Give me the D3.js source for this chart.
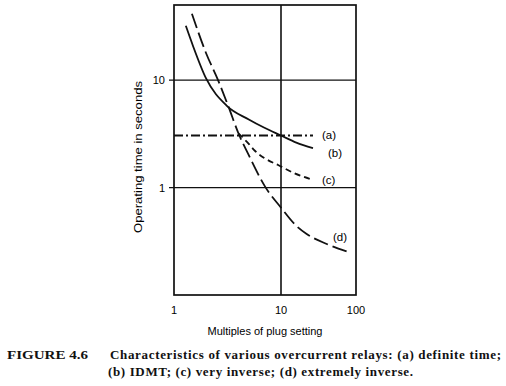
<!DOCTYPE html>
<html>
<head>
<meta charset="utf-8">
<script src="https://cdn.jsdelivr.net/npm/d3@7"></script>
<style>
  body { margin: 0; background: #fff; }
  svg { display: block; }
</style>
</head>
<body>
<script>
// values (multiple of plug setting, seconds)
var curveA = [[1, 3.05], [26.7, 3.05]];
var curveB = [[1.29, 32], [1.5, 21], [2, 10.3], [3.1, 5.8], [5, 4.3], [7, 3.6], [10, 3.05], [16, 2.62], [26.7, 2.33]];
var curveC = [[4, 3.2], [5, 2.55], [5.7, 2.2], [7, 1.88], [9.4, 1.62], [15, 1.36], [26.7, 1.18]];
var curveD = [[1.47, 41.5], [2, 17.7], [2.58, 10], [3.2, 5.8], [4, 3.2], [5, 2.0], [7.1, 1.02], [10, 0.65], [16, 0.44], [22, 0.37], [40, 0.3], [75, 0.255]];
var curveLabels = ["(a)", "(b)", "(c)", "(d)"];
var xTicks = [1, 10, 100];
var yTicks = [1, 10];

var width = 506, height = 386;

var svg = d3.select("body")
    .append("svg")
    .attr("width", width)
    .attr("height", height);

// the printed scan is a bit squashed in the second decade, so piecewise log
var x = d3.scaleLog()
    .domain([1, 10, 100])
    .range([174, 281, 356]);

var y = d3.scaleLog()
    .domain([0.1, 50])
    .range([295, 5]);

var g = svg.append("g");

// grid lines
g.selectAll(".hgrid")
    .data(yTicks)
    .enter()
    .append("line")
    .attr("x1", x(1) - 5)
    .attr("x2", x(100))
    .attr("y1", function (d) { return y(d); })
    .attr("y2", function (d) { return y(d); })
    .attr("stroke", "#111")
    .attr("stroke-width", 1.3);

g.append("line")
    .attr("x1", x(10)).attr("x2", x(10))
    .attr("y1", y(50)).attr("y2", y(0.1))
    .attr("stroke", "#111")
    .attr("stroke-width", 1.6);

// frame
g.append("rect")
    .attr("x", x(1))
    .attr("y", y(50))
    .attr("width", x(100) - x(1))
    .attr("height", y(0.1) - y(50))
    .attr("fill", "none")
    .attr("stroke", "#111")
    .attr("stroke-width", 1.7);

// tick labels
g.selectAll(".ylab")
    .data(yTicks)
    .enter()
    .append("text")
    .attr("x", x(1) - 9)
    .attr("y", function (d) { return y(d) + 4; })
    .attr("text-anchor", "end")
    .style("font", "11px 'Liberation Sans', Arial, sans-serif")
    .text(function (d) { return d; });

g.selectAll(".xlab")
    .data(xTicks)
    .enter()
    .append("text")
    .attr("x", function (d) { return x(d); })
    .attr("y", 314)
    .attr("text-anchor", "middle")
    .style("font", "11px 'Liberation Sans', Arial, sans-serif")
    .text(function (d) { return d; });

g.append("text")
    .attr("x", 265)
    .attr("y", 335)
    .attr("text-anchor", "middle")
    .style("font", "11px 'Liberation Sans', Arial, sans-serif")
    .text("Multiples of plug setting");

g.append("text")
    .attr("transform", "translate(142,157)rotate(-90)")
    .attr("text-anchor", "middle")
    .attr("textLength", 152)
    .attr("lengthAdjust", "spacingAndGlyphs")
    .style("font", "11px 'Liberation Sans', Arial, sans-serif")
    .text("Operating time in seconds");

// curves
var line = d3.line()
    .x(function (d) { return x(d[0]); })
    .y(function (d) { return y(d[1]); })
    .curve(d3.curveMonotoneX);

var curves = [
    { data: curveA, dash: "9,3,2,3" },
    { data: curveB, dash: null },
    { data: curveC, dash: "6,4" },
    { data: curveD, dash: "15,5" }
];

g.selectAll(".curve")
    .data(curves)
    .enter()
    .append("path")
    .attr("d", function (d) { return line(d.data); })
    .attr("fill", "none")
    .attr("stroke", "#111")
    .attr("stroke-width", 1.8)
    .attr("stroke-dasharray", function (d) { return d.dash; });

var labelPos = [[322, 139], [328, 157], [322, 184], [333, 241]];
g.selectAll(".clab")
    .data(curveLabels)
    .enter()
    .append("text")
    .attr("x", function (d, i) { return labelPos[i][0]; })
    .attr("y", function (d, i) { return labelPos[i][1]; })
    .style("font", "11.5px 'Liberation Sans', Arial, sans-serif")
    .text(function (d) { return d; });

// caption
var cap = svg.append("g")
    .style("font", "bold 13px 'Liberation Serif', 'Times New Roman', serif")
    .attr("fill", "#111");

cap.append("text").attr("x", 7).attr("y", 359)
    .attr("textLength", 81).attr("lengthAdjust", "spacingAndGlyphs")
    .text("FIGURE 4.6");
cap.append("text").attr("x", 110).attr("y", 359)
    .attr("textLength", 391).attr("lengthAdjust", "spacing")
    .text("Characteristics of various overcurrent relays:  (a) definite time;");
cap.append("text").attr("x", 108).attr("y", 376)
    .attr("textLength", 305).attr("lengthAdjust", "spacing")
    .text("(b) IDMT;   (c) very inverse;   (d) extremely inverse.");
</script>
</body>
</html>
